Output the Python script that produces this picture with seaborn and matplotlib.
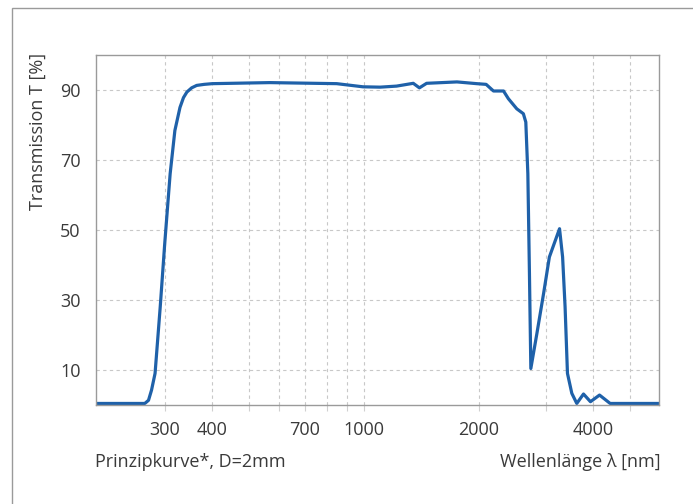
import numpy as np
import pandas as pd
import matplotlib
matplotlib.use("Agg")
import matplotlib.pyplot as plt
import seaborn as sns
from matplotlib.patches import Rectangle
from matplotlib.ticker import NullFormatter

wavelength_nm = [198, 266, 272, 277, 283, 292, 300, 310, 319, 329, 336, 343, 353, 364, 381, 400,
                 566, 848, 994, 1102, 1218, 1347, 1398, 1460, 1754, 1976, 2092, 2187, 2324,
                 2393, 2518, 2620, 2659, 2692, 2718, 2741, 2843, 2961, 3066, 3260, 3321, 3371,
                 3420, 3511, 3618, 3768, 3930, 4151, 4426, 5957]
transmission = [0.3, 0.3, 1.2, 4.1, 8.9, 28, 46, 66, 78.4, 85, 87.8, 89.4, 90.6, 91.3, 91.6, 91.8,
                92.1, 91.8, 90.9, 90.8, 91.1, 91.9, 90.6, 91.9, 92.3, 91.8, 91.6, 89.7, 89.7,
                87.5, 84.6, 83.2, 80.8, 66, 37.5, 10.3, 20.3, 31.8, 42.2, 50.3, 42.2, 28,
                8.9, 3.2, 0.3, 3.0, 0.8, 2.7, 0.3, 0.3]
x_tick_values = [300, 400, 700, 1000, 2000, 4000]
x_tick_labels = ["300", "400", "700", "1000", "2000", "4000"]
x_minor_grid = [500, 600, 800, 900, 3000, 5000]
y_tick_values = [10, 30, 50, 70, 90]

df = pd.DataFrame({"wl": wavelength_nm, "T": transmission})

sns.set_theme(style="white")
plt.rcParams["font.family"] = ["Open Sans", "DejaVu Sans"]
text_col = "#3a3a3a"

fig = plt.figure(figsize=(6.93, 5.04), dpi=100)
ax = fig.add_axes([95.7 / 693, 1 - 404.5 / 504, (659.3 - 95.7) / 693, (404.5 - 55) / 504])

sns.lineplot(data=df, x="wl", y="T", ax=ax, color="#1f61a9", linewidth=2.3, sort=False)
ax.lines[0].set_solid_joinstyle("round")
ax.set_xscale("log")
ax.set_xlim(197.7, 5957)
ax.set_ylim(0, 100)

ax.set_xticks(x_tick_values)
ax.set_xticklabels(x_tick_labels)
ax.set_xticks(x_minor_grid, minor=True)
ax.xaxis.set_minor_formatter(NullFormatter())
ax.set_yticks(y_tick_values)
ax.set_yticklabels([str(v) for v in y_tick_values])

ax.grid(True, which="both", axis="x", color="#c8c8c8", linestyle=(0, (3, 3)), linewidth=0.8)
ax.grid(True, which="major", axis="y", color="#c8c8c8", linestyle=(0, (3, 3)), linewidth=0.8)
ax.set_axisbelow(True)

ax.tick_params(axis="x", which="both", length=4, color="#d0d0d0", width=0.8, pad=8,
               labelsize=13, labelcolor=text_col, bottom=True)
ax.tick_params(axis="y", length=0, pad=11, labelsize=13, labelcolor=text_col)

for s in ax.spines.values():
    s.set_color("#9a9a9a")
    s.set_linewidth(1.0)

ax.set_xlabel("")
ax.set_ylabel("")

fig.text(38 / 693, 1 - 53 / 504, "Transmission T [%]", rotation=90, ha="center", va="top",
         fontsize=13, color=text_col)
fig.text(95 / 693, 1 - 462 / 504, "Prinzipkurve*, D=2mm", ha="left", va="center",
         fontsize=13, color=text_col)
fig.text(661 / 693, 1 - 462 / 504, "Wellenlänge λ [nm]", ha="right", va="center",
         fontsize=13, color=text_col)

fig.patches.append(Rectangle((12 / 693, -0.2), 1.0, (1 - 7.5 / 504) + 0.2,
                             transform=fig.transFigure, fill=False,
                             edgecolor="#9a9a9a", linewidth=1.0))

fig.savefig("out.png", dpi=100)
